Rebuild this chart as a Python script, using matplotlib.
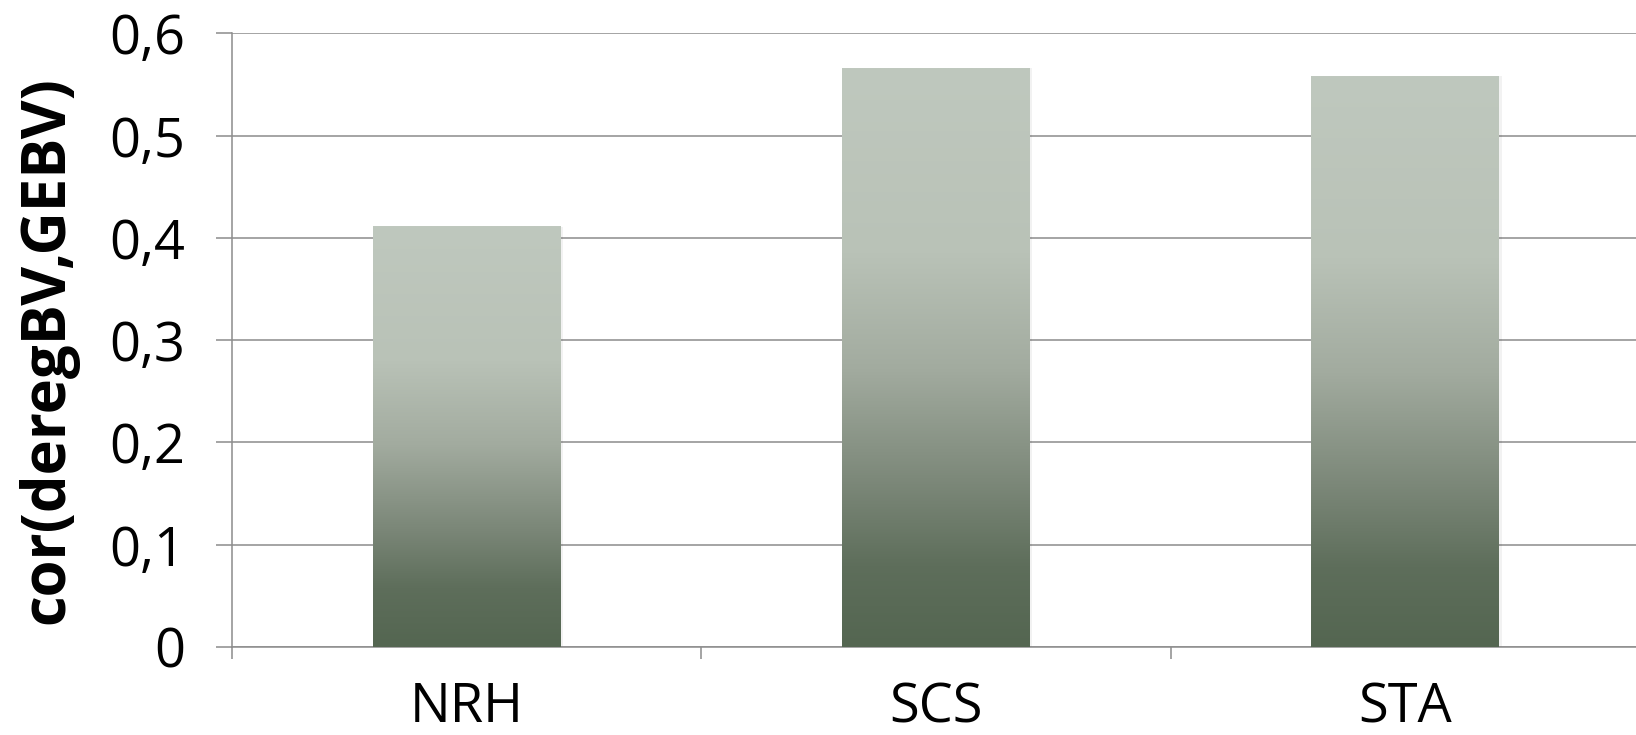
import numpy as np
import matplotlib.pyplot as plt
from matplotlib.colors import LinearSegmentedColormap

categories = ["NRH", "SCS", "STA"]
values = [0.411, 0.566, 0.558]
yticks = [0, 0.1, 0.2, 0.3, 0.4, 0.5, 0.6]
ytick_labels = ["0", "0,1", "0,2", "0,3", "0,4", "0,5", "0,6"]
ylabel = "cor(deregBV,GEBV)"

plt.rcParams['font.family'] = ['Open Sans', 'DejaVu Sans']

# top -> bottom gradient like the Excel fill
grad = LinearSegmentedColormap.from_list("bar", [
    (0.0, "#bfc8be"), (0.32, "#b9c2b7"), (0.52, "#a2ab9f"),
    (0.72, "#7b8778"), (0.86, "#5e6e5b"), (1.0, "#546651")])

fig = plt.figure(figsize=(16.36, 7.35), dpi=100)
ax = fig.add_axes([232 / 1636, 1 - 647 / 735, 1408 / 1636, (647 - 33.4) / 735])

x = np.arange(len(categories))
w = 0.40
ramp = np.linspace(0, 1, 256).reshape(-1, 1)
for xi, v in zip(x, values):
    # faint shadow
    ax.bar(xi + 0.005, v, width=w, color="#000000", alpha=0.05, zorder=2)
    ax.imshow(ramp, cmap=grad, aspect="auto", origin="upper",
              extent=(xi - w / 2, xi + w / 2, 0, v), zorder=3)

ax.set_xlim(-0.5, 2.5)
ax.set_ylim(0, 0.6)

ax.set_yticks(yticks)
ax.set_yticklabels(ytick_labels)
ax.set_xticks(x)
ax.set_xticklabels(categories)
ax.set_xticks([-0.5, 0.5, 1.5, 2.5], minor=True)

gray = "#8c8c8c"
ax.tick_params(axis="y", length=11.5, width=1.1, color=gray, pad=22, labelsize=39)
ax.tick_params(axis="x", which="major", length=0, pad=24, labelsize=39)
ax.tick_params(axis="x", which="minor", length=8.5, width=1.1, color=gray)

ax.yaxis.grid(True, color=gray, linewidth=1.1, zorder=0)
ax.set_axisbelow(True)
for s in ["top", "right"]:
    ax.spines[s].set_visible(False)
for s in ["left", "bottom"]:
    ax.spines[s].set_color(gray)
    ax.spines[s].set_linewidth(1.1)

fig.text(48 / 1636, 1 - 350 / 735, ylabel, rotation=90, ha="center", va="center",
         fontsize=43, fontweight="bold")

fig.savefig("out.png", dpi=100)
